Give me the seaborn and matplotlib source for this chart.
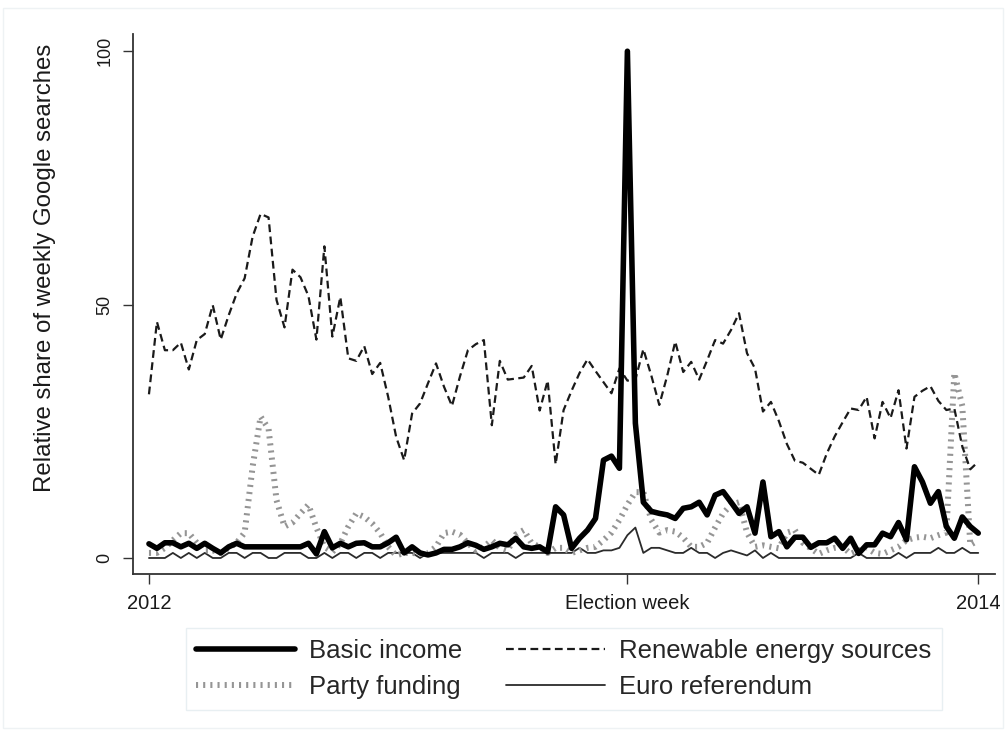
import matplotlib

matplotlib.use("Agg")

import numpy as np
import pandas as pd
import matplotlib.pyplot as plt
import seaborn as sns

# weekly index, 2012 -> 2014
weeks = list(range(105))
tick_pos = [0, 60, 104]
tick_labels = ["2012", "Election week", "2014"]

basic_income = [
    2.8, 1.9, 3, 3, 2.2, 2.9, 1.9, 2.9, 1.9, 1, 2.2, 2.9, 2.2, 2.2, 2.2, 2.2, 2.2, 2.2, 2.2, 2.2,
    2.9, 0.8, 5.2, 2, 2.9, 2.2, 2.9, 3, 2.2, 2.2, 3, 4.1, 1, 2.2, 1, 0.6, 1, 1.7, 1.7, 2.2,
    3, 2.5, 1.7, 2.2, 2.9, 2.6, 3.9, 2.2, 1.9, 2.2, 1.2, 10.1, 8.5, 1.9, 3.9, 5.5, 7.8, 19.3, 20.1, 17.7,
    100, 26.6, 11, 9.2, 8.8, 8.5, 7.8, 9.8, 10.1, 11, 8.5, 12.4, 13.1, 11, 8.8, 10.1, 4.9, 15, 4.2, 5.2,
    2.2, 4.1, 4.1, 2.1, 3, 3, 3.9, 1.9, 3.9, 0.9, 2.6, 2.6, 4.9, 4.2, 7, 3.6, 18, 15, 10.8, 13.1,
    6.2, 3.9, 8.1, 6.2, 4.9,
]
renewable = [
    32.3, 46.6, 41, 41, 42.5, 37.2, 43, 44.2, 49.9, 43.1, 47.9, 52.2, 55.2, 63.4, 67.9, 67.2, 50.9, 45.5, 56.9, 55.4,
    51.7, 43.1, 61.5, 43.7, 51.5, 39.4, 38.9, 41.8, 36.3, 38.5, 31.8, 23.9, 19.3, 28.5, 30.5, 34.5, 38.4, 33.8, 30, 35.8,
    41, 42.2, 43, 26.2, 38.9, 35.2, 35.4, 35.6, 37.9, 29.1, 35, 18.5, 29.2, 33, 36.5, 39.2, 36.9, 34.7, 32.5, 37.4,
    35, 35.2, 41.2, 36, 30.2, 36, 42.7, 36.7, 38.7, 35.2, 39, 43, 42.3, 45, 48.3, 40.4, 37.4, 28.9, 30.8, 27,
    22.5, 19.2, 18.8, 17.6, 16.4, 20.6, 24, 26.8, 29.5, 29.2, 31.8, 23.6, 30.8, 27.6, 33.1, 21.6, 31.8, 33, 33.9, 31,
    29.2, 29.5, 22, 17.5, 19,
]
party_funding = [
    1, 1, 2, 3.5, 4.9, 4.9, 3, 1.5, 1.5, 1, 2, 3, 5, 18, 27.9, 25.5, 11.4, 6.2, 7, 8.8,
    10.5, 6, 2.2, 1.2, 2.9, 6.2, 8.8, 8.1, 6.8, 4.9, 2.2, 0.5, 1, 1, 0.8, 1, 2.2, 4.9, 5.2, 4.6,
    2.9, 1.5, 2.2, 3.5, 2, 1.5, 4.6, 5.5, 2.9, 2.2, 1, 2, 2, 1, 1.5, 2, 2.2, 3.5, 5, 7.5,
    10.5, 13, 13, 7.5, 5, 5.5, 5.2, 4, 2.2, 2.2, 3, 6, 8.8, 10.5, 11, 5, 2.2, 2.5, 2.2, 1.9,
    5, 5.5, 3, 1.9, 0.8, 1.5, 2, 2.2, 0.8, 1.5, 2, 1, 0.8, 1.5, 2.2, 3.5, 4, 4.2, 3.9, 4.5,
    5, 36.5, 30, 2.6, 3.5,
]
euro_referendum = [
    0, 0, 0, 1, 0, 1, 0, 1, 0, 0, 1, 1, 0, 1, 1, 0, 0, 1, 1, 1,
    0, 0, 1, 0, 1, 1, 0, 1, 1, 0, 1, 1, 1, 1, 0, 1, 1, 1, 1, 1,
    1, 1, 0, 1, 1, 1, 0, 1, 1, 1, 1, 1, 1, 1, 2, 1, 1, 1.5, 1.5, 2,
    4.5, 6, 1, 2, 2, 1.5, 1, 1, 2, 1, 1, 0, 1, 1.5, 1, 0.5, 1.5, 0, 1, 0,
    0, 0, 0, 0, 0, 0, 0, 0, 0, 1, 0, 0, 0, 0, 1, 0, 1, 1, 1, 2,
    1, 1, 2, 1, 1,
]

df = pd.DataFrame({
    "week": weeks,
    "Basic income": basic_income,
    "Renewable energy sources": renewable,
    "Party funding": party_funding,
    "Euro referendum": euro_referendum,
})

sns.set_style("white")
plt.rcParams["font.family"] = ["Liberation Sans", "DejaVu Sans"]

W, H = 1006, 731
fig = plt.figure(figsize=(W / 100, H / 100), dpi=100)
ax = fig.add_axes([133 / W, 1 - 574 / H, (995 - 133) / W, (574 - 34) / H])

sns.lineplot(data=df, x="week", y="Euro referendum", ax=ax, color="#2b2b2b",
             linewidth=1.3, label="Euro referendum")
sns.lineplot(data=df, x="week", y="Party funding", ax=ax, color="#959595",
             linewidth=4.3, linestyle=(0, (0.35, 0.85)), label="Party funding")
sns.lineplot(data=df, x="week", y="Renewable energy sources", ax=ax, color="#1a1a1a",
             linewidth=1.6, linestyle=(0, (3.5, 2.0)), label="Renewable energy sources")
sns.lineplot(data=df, x="week", y="Basic income", ax=ax, color="black",
             linewidth=4.0, label="Basic income")

ax.set_xlim(-2.0, 106.1)
ax.set_ylim(-3.16, 103.4)
ax.set_xticks(tick_pos)
ax.set_xticklabels(tick_labels, fontsize=14.5, color="#1a1a1a")
ax.set_yticks([0, 50, 100])
ax.set_yticklabels(["0", "50", "100"], fontsize=13, color="#1a1a1a",
                   rotation=90, va="center")
ax.tick_params(axis="both", direction="out", length=7.2, width=1.0,
               color="#333333", pad=7, bottom=True, left=True)
ax.set_xlabel("")
ax.set_ylabel("")
for side in ["top", "right"]:
    ax.spines[side].set_visible(False)
for side in ["left", "bottom"]:
    ax.spines[side].set_color("#333333")
    ax.spines[side].set_linewidth(1.3)

fig.text(45 / W, 1 - 268 / H, "Relative share of weekly Google searches",
         rotation=90, ha="center", va="center", fontsize=17.3, color="#1a1a1a")

# legend: row 1 basic / renewable, row 2 party / euro
handles, labels = ax.get_legend_handles_labels()
order = ["Basic income", "Party funding", "Renewable energy sources", "Euro referendum"]
hmap = dict(zip(labels, handles))
ax.get_legend().remove()
leg = fig.legend([hmap[k] for k in order], order, ncol=2, loc="upper center",
                 bbox_to_anchor=(564 / W, 1 - 628 / H), borderaxespad=0.0,
                 fontsize=18.5, handlelength=3.85, handletextpad=0.55,
                 columnspacing=1.7, labelspacing=0.48, borderpad=0.42,
                 frameon=True, fancybox=False)
leg.get_frame().set_edgecolor("#e3ebef")
leg.get_frame().set_linewidth(1.0)

# faint outer border of the graph region
fig.patches.append(plt.Rectangle((3 / W, 3 / H), 1000 / W, 720 / H, transform=fig.transFigure,
                                 fill=False, edgecolor="#eef2f4", linewidth=1.0))

fig.savefig("out.png", dpi=100, facecolor="white")
